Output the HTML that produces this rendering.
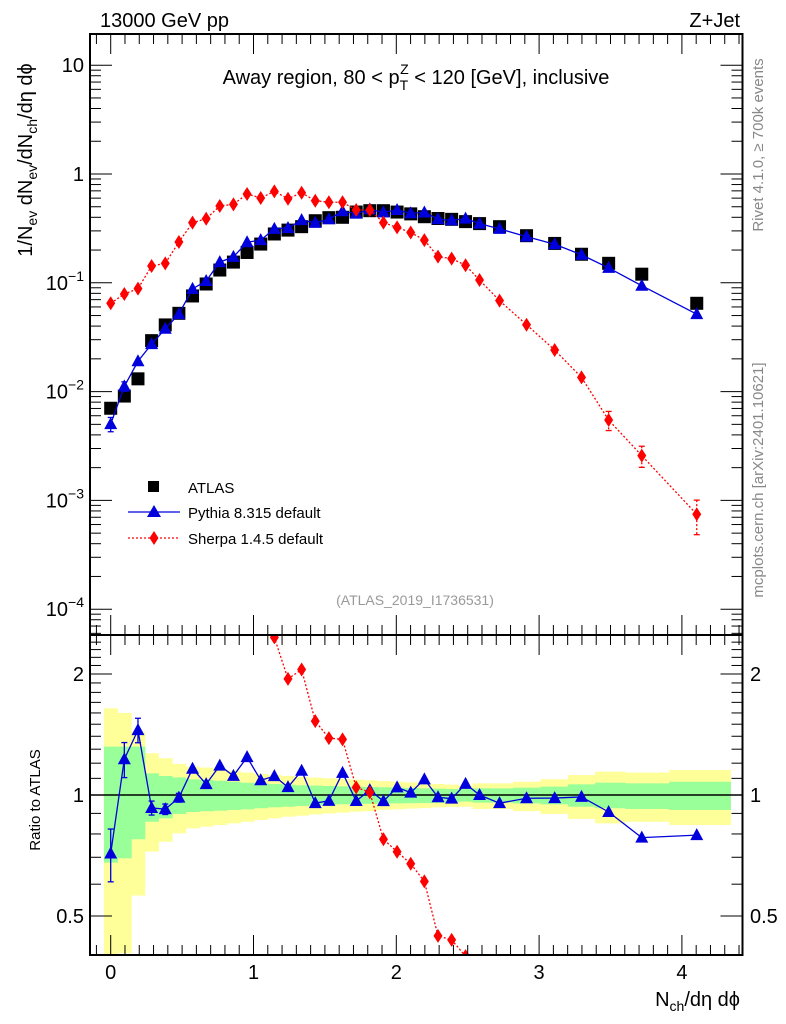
<!DOCTYPE html>
<html><head><meta charset="utf-8"><style>
html,body{margin:0;padding:0;background:#fff;overflow:hidden;}
svg{display:block;font-family:"Liberation Sans",sans-serif;}
</style></head><body>
<svg id="c" width="786" height="1024" viewBox="0 0 786 1024" xmlns="http://www.w3.org/2000/svg">
<text x="100" y="27" font-size="20">13000 GeV pp</text>
<text x="740" y="27" font-size="20" text-anchor="end">Z+Jet</text>
<text x="416" y="84" font-size="20" text-anchor="middle">Away region, 80 &lt; p<tspan font-size="14" dy="6">T</tspan><tspan font-size="14" dx="-8" dy="-16">Z</tspan><tspan dy="10"> &lt; 120 [GeV], inclusive</tspan></text>
<text transform="translate(32,160) rotate(-90)" font-size="20" text-anchor="middle">1/N<tspan font-size="14" dy="5">ev</tspan><tspan dy="-5"> dN</tspan><tspan font-size="14" dy="5">ev</tspan><tspan dy="-5">/dN</tspan><tspan font-size="14" dy="5">ch</tspan><tspan dy="-5">/dη dϕ</tspan></text>
<text transform="translate(763,145) rotate(-90)" font-size="15" fill="#888" text-anchor="middle">Rivet 4.1.0, ≥ 700k events</text>
<text transform="translate(763,480) rotate(-90)" font-size="15" fill="#888" text-anchor="middle">mcplots.cern.ch [arXiv:2401.10621]</text>
<text x="415" y="605" font-size="14" fill="#999" text-anchor="middle">(ATLAS_2019_I1736531)</text>
<text transform="translate(40,800) rotate(-90)" font-size="15" text-anchor="middle">Ratio to ATLAS</text>
<text x="740" y="1006" font-size="20" text-anchor="end">N<tspan font-size="14" dy="5">ch</tspan><tspan dy="-5">/dη dϕ</tspan></text>
<g id="ratioBands"></g><g id="ratioMarks"></g><g id="mainMarks"></g><g id="axes"></g>
<g>
<rect x="148" y="481" width="11" height="11" fill="#000"/>
<text x="188" y="493" font-size="15">ATLAS</text>
<line x1="128" y1="512" x2="180" y2="512" stroke="#0000dd" stroke-width="1.3"/>
<polygon points="154,505 147,517 161,517" fill="#0000dd"/>
<text x="188" y="518" font-size="15">Pythia 8.315 default</text>
<line x1="128" y1="538" x2="180" y2="538" stroke="#f00" stroke-width="1.3" stroke-dasharray="2,2"/>
<polygon points="154,531 158.5,538 154,545 149.5,538" fill="#f00"/>
<text x="188" y="544" font-size="15">Sherpa 1.4.5 default</text>
</g>
</svg>
<script>
const xCenters=[0,0.0955,0.191,0.2865,0.382,0.4775,0.573,0.6685,0.764,0.8595,0.955,1.0505,1.146,1.2415,1.337,1.4325,1.528,1.6235,1.719,1.8145,1.91,2.0055,2.101,2.1965,2.292,2.3875,2.485,2.583,2.723,2.912,3.109,3.297,3.487,3.719,4.104];
const atlasVals=[0.00703,0.0091,0.0131,0.0294,0.041,0.0524,0.0757,0.0975,0.131,0.155,0.19,0.227,0.281,0.305,0.328,0.372,0.397,0.40,0.447,0.46,0.46,0.447,0.43,0.405,0.39,0.383,0.365,0.35,0.328,0.271,0.23,0.183,0.151,0.12,0.0648];
const pythiaVals=[0.00503,0.01117,0.019,0.0273,0.0378,0.0516,0.088,0.1038,0.155,0.173,0.236,0.247,0.313,0.319,0.377,0.355,0.384,0.454,0.432,0.473,0.444,0.467,0.436,0.443,0.385,0.375,0.389,0.35,0.313,0.266,0.226,0.181,0.137,0.094,0.0515];
const pythiaRelErr=[0.15,0.1,0.07,0.04,0.03,0.025,0.02,0.015,0.012,0.01,0.01,0.01,0.01,0.01,0.01,0.01,0.01,0.01,0.01,0.01,0.01,0.01,0.01,0.01,0.01,0.01,0.01,0.01,0.01,0.01,0.01,0.01,0.01,0.01,0.01];
const sherpaVals=[0.0648,0.0789,0.0883,0.1427,0.151,0.237,0.357,0.388,0.508,0.526,0.655,0.602,0.693,0.593,0.673,0.568,0.55,0.55,0.467,0.467,0.357,0.323,0.29,0.247,0.174,0.167,0.145,0.106,0.0685,0.0412,0.0241,0.0135,0.00548,0.00258,0.000745];
const sherpaRelErr=[0.01,0.01,0.01,0.01,0.01,0.01,0.01,0.01,0.01,0.01,0.01,0.01,0.01,0.01,0.01,0.01,0.01,0.01,0.01,0.01,0.01,0.01,0.01,0.01,0.01,0.02,0.02,0.02,0.03,0.03,0.04,0.06,0.2,0.22,0.35];
const totUp=[1.643,1.60,1.437,1.27,1.234,1.195,1.176,1.17,1.159,1.15,1.137,1.128,1.121,1.115,1.109,1.104,1.1,1.096,1.092,1.088,1.083,1.079,1.075,1.071,1.065,1.061,1.055,1.069,1.069,1.079,1.094,1.121,1.143,1.137,1.154];
const totDn=[0.30,0.404,0.562,0.723,0.765,0.803,0.826,0.834,0.842,0.85,0.858,0.867,0.875,0.883,0.888,0.895,0.9,0.904,0.909,0.912,0.918,0.921,0.925,0.928,0.932,0.934,0.935,0.923,0.923,0.912,0.897,0.872,0.85,0.858,0.842];
const statUp=[1.319,1.319,1.319,1.132,1.115,1.106,1.094,1.09,1.085,1.079,1.073,1.069,1.065,1.061,1.057,1.055,1.053,1.051,1.049,1.047,1.045,1.043,1.041,1.039,1.037,1.035,1.035,1.039,1.039,1.043,1.049,1.063,1.073,1.069,1.079];
const statDn=[0.679,0.696,0.776,0.858,0.875,0.897,0.907,0.911,0.914,0.918,0.921,0.927,0.932,0.935,0.939,0.943,0.946,0.948,0.95,0.951,0.952,0.953,0.954,0.955,0.956,0.958,0.963,0.957,0.957,0.953,0.948,0.935,0.927,0.923,0.918];
const xTicks=[0,1,2,3,4];
const mainTickExp=[1,0,-1,-2,-3,-4];
const ratioTicks=[0.5,1,2];

const NS="http://www.w3.org/2000/svg";
const L=90,R=742.5,MT=34,MB=635,RB=955;
const X0=110.7,XS=142.8;
const sx=v=>X0+v*XS;
const syMain=v=>174-Math.log10(v)*108.8;
const syRatio=v=>795-Math.log10(v)*402;
function mk(tag,attrs,parent){const e=document.createElementNS(NS,tag);for(const k in attrs)e.setAttribute(k,attrs[k]);parent.appendChild(e);return e;}
const svg=document.getElementById('c');
function clip(id,y1,y2){const d=mk('clipPath',{id:id},svg);mk('rect',{x:L,y:y1,width:R-L,height:y2-y1},d);}
clip('cm',MT,MB);clip('cr',MB,RB);
const gB=document.getElementById('ratioBands');gB.setAttribute('clip-path','url(#cr)');
const gR=document.getElementById('ratioMarks');gR.setAttribute('clip-path','url(#cr)');
const gM=document.getElementById('mainMarks');gM.setAttribute('clip-path','url(#cm)');
const gA=document.getElementById('axes');
const n=xCenters.length;
const edges=[];
edges.push(xCenters[0]-(xCenters[1]-xCenters[0])/2);
for(let i=0;i<n-1;i++)edges.push((xCenters[i]+xCenters[i+1])/2);
edges.push(4.34);
for(let i=0;i<n;i++){
 const x1=sx(edges[i]),x2=sx(edges[i+1]);
 const b=mk('rect',{x:x1,y:syRatio(totUp[i]),width:x2-x1+0.5,height:syRatio(totDn[i])-syRatio(totUp[i]),fill:'#ffff99'},gB);
 
 
}
for(let i=0;i<n;i++){
 const x1=sx(edges[i]),x2=sx(edges[i+1]);
 const b=mk('rect',{x:x1,y:syRatio(statUp[i]),width:x2-x1+0.5,height:syRatio(statDn[i])-syRatio(statUp[i]),fill:'#99ff99'},gB);
 
 
}
mk('line',{x1:L,x2:R,y1:syRatio(1),y2:syRatio(1),stroke:'#000','stroke-width':1.5},gB);
function tri(x,y,g,name){const p=mk('polygon',{points:`${x},${y-7} ${x-6.5},${y+5} ${x+6.5},${y+5}`,fill:'#0000dd'},g);}
function dia(x,y,g,name){const p=mk('polygon',{points:`${x},${y-7} ${x+4.5},${y} ${x},${y+7} ${x-4.5},${y}`,fill:'#f00'},g);}
function series(g,vals,errs,sy,color,dash,marker,name){
 mk('polyline',{points:vals.map((v,i)=>sx(xCenters[i])+','+sy(v)).join(' '),fill:'none',stroke:color,'stroke-width':1.3,'stroke-dasharray':dash},g);
 vals.forEach((v,i)=>{const x=sx(xCenters[i]);const y1=sy(v*(1+errs[i])),y2=sy(v*(1-errs[i]));
  if(y2-y1>8){mk('line',{x1:x,x2:x,y1:y1,y2:y2,stroke:color,'stroke-width':1.3,'stroke-dasharray':dash},g);
   mk('line',{x1:x-3,x2:x+3,y1:y1,y2:y1,stroke:color,'stroke-width':1.3},g);mk('line',{x1:x-3,x2:x+3,y1:y2,y2:y2,stroke:color,'stroke-width':1.3},g);}
  marker(x,sy(v),g,name);});
}
atlasVals.forEach((v,i)=>{const r=mk('rect',{x:sx(xCenters[i])-6.5,y:syMain(v)-6.5,width:13,height:13,fill:'#000'},gM);
 
 });
series(gM,pythiaVals,pythiaRelErr,syMain,'#0000dd','none',tri,'pythia-point');
series(gM,sherpaVals,sherpaRelErr,syMain,'#f00','2,2',dia,'sherpa-point');
const pyR=pythiaVals.map((v,i)=>v/atlasVals[i]);
const shR=sherpaVals.map((v,i)=>v/atlasVals[i]);
series(gR,pyR,pythiaRelErr,syRatio,'#0000dd','none',tri,'pythia-ratio-point');
series(gR,shR,sherpaRelErr,syRatio,'#f00','2,2',dia,'sherpa-ratio-point');
mk('rect',{x:L,y:MT,width:R-L,height:MB-MT,fill:'none',stroke:'#000','stroke-width':2},gA);
mk('rect',{x:L,y:MB,width:R-L,height:RB-MB,fill:'none',stroke:'#000','stroke-width':2},gA);
for(let k=-1;k<=44;k++){const v=k/10;const x=sx(v);if(x<L||x>R)continue;const maj=k%10===0;const len=maj?20:10;
 [[MT,1],[MB,-1],[MB,1],[RB,-1]].forEach(([y,d])=>mk('line',{x1:x,x2:x,y1:y,y2:y+d*len,stroke:'#000','stroke-width':1},gA));}
xTicks.forEach(v=>{const t=mk('text',{x:sx(v),y:979,'font-size':20,'text-anchor':'middle'},gA);t.textContent=v;
 
 });
for(let e=-5;e<=1;e++){for(let m=1;m<10;m++){const v=m*Math.pow(10,e);const y=syMain(v);if(y<MT||y>MB)continue;const len=m===1?22:11;
 mk('line',{x1:L,x2:L+len,y1:y,y2:y,stroke:'#000'},gA);mk('line',{x1:R,x2:R-len,y1:y,y2:y,stroke:'#000'},gA);}}
mainTickExp.forEach(e=>{const y=syMain(Math.pow(10,e))+7;let t;
 if(e===1||e===0){t=mk('text',{x:84,y:y,'font-size':20,'text-anchor':'end'},gA);t.textContent=e===1?'10':'1';}
 else{t=mk('text',{x:84,y:y,'font-size':20,'text-anchor':'end'},gA);t.innerHTML='10<tspan font-size="14" dy="-9">−'+(-e)+'</tspan>';}
 
 });
for(let k=3;k<=25;k++){const v=k/10;const y=syRatio(v);if(y<MB||y>RB)continue;const maj=(k===5||k===10||k===20);const len=maj?22:11;
 mk('line',{x1:L,x2:L+len,y1:y,y2:y,stroke:'#000'},gA);mk('line',{x1:R,x2:R-len,y1:y,y2:y,stroke:'#000'},gA);}
ratioTicks.forEach(v=>{const y=syRatio(v)+7;
 const t=mk('text',{x:84,y:y,'font-size':20,'text-anchor':'end'},gA);t.textContent=v;
 
 
 const t2=mk('text',{x:750,y:y,'font-size':20},gA);t2.textContent=v;
 
 });
</script>
</body></html>
